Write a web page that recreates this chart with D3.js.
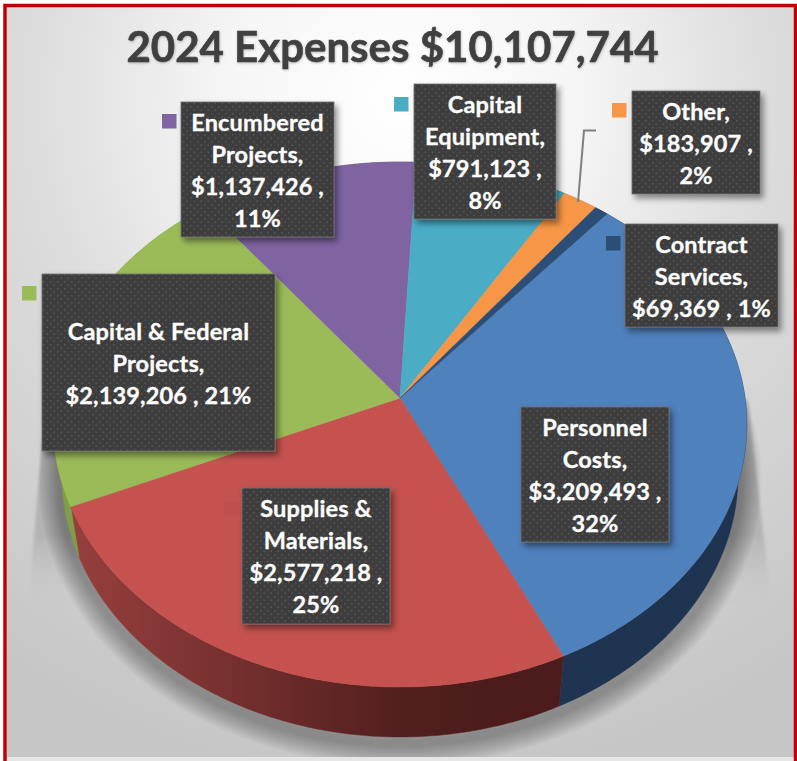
<!DOCTYPE html>
<html>
  <head>
    <title>2024 Expenses</title>
    <style type="text/css">
      html, body { margin: 0; padding: 0; background: #fff; }
      svg { display: block; }
      text { font-family: Lato, "Open Sans", sans-serif; font-weight: 700; }
    </style>
  </head>
  <body>
    <svg id="chart" width="797" height="761"></svg>

    <script src="https://cdn.jsdelivr.net/npm/d3@7/dist/d3.min.js"></script>
    <script type="text/javascript">

    // data, clockwise from the first slice
    var titleText = '2024 Expenses $10,107,744';
    var categories = ['Personnel Costs', 'Supplies & Materials', 'Capital & Federal Projects',
                      'Encumbered Projects', 'Capital Equipment', 'Other', 'Contract Services'];
    var values = [3209493, 2577218, 2139206, 1137426, 791123, 183907, 69369];
    var percents = ['32%', '25%', '21%', '11%', '8%', '2%', '1%'];
    var nameLines = [['Personnel', 'Costs,'], ['Supplies &', 'Materials,'], ['Capital & Federal', 'Projects,'],
                     ['Encumbered', 'Projects,'], ['Capital', 'Equipment,'], ['Other,'], ['Contract', 'Services,']];
    var colors = ['#4f81bd', '#c5524f', '#9bbb59', '#8064a2', '#4bacc6', '#f79646', '#2c4d75'];
    var sideColors = ['#1e3450', 'url(#redSide)', '#7f9e47', '#5c4876', '#2f7c90', '#b56a2c', '#1e3450'];

    // label boxes: x0, y0, x1, y1, key x, key y, percent on the same line
    var boxes = [
      [521, 407, 669, 542, 503, 420, false],
      [242, 488, 390, 624, 224, 501, false],
      [42, 274, 275, 451, 22, 286, true],
      [181, 102, 334, 237, 162, 114, false],
      [414, 84, 556, 219, 394, 97, false],
      [632, 91, 760, 194, 612, 103, false],
      [625, 224, 778, 327, 606, 236, true]
    ];

    var cx = 400, cy = 398,      // where the slices meet
        persp = 0.101,           // back of the pie is drawn smaller than the front
        scaleX = 345, scaleY = 259.8,
        depth = 50, lowerScale = 0.975;

    function project(a, lower) {
      var u = Math.sin(a), v = Math.cos(a), w = 1 + persp * v;
      var x = scaleX * u / w, y = -scaleY * v / w;
      return lower ? [cx + x * lowerScale, cy + y + depth] : [cx + x, cy + y];
    }

    function arcPoints(a0, a1, lower) {
      var n = Math.ceil(Math.abs(a1 - a0) / 0.01);
      return d3.range(n + 1).map(function(i) { return project(a0 + (a1 - a0) * i / n, lower); });
    }

    var line = d3.line();

    var svg = d3.select('#chart');
    var defs = svg.append('defs');

    var bg = defs.append('radialGradient').attr('id', 'bg')
      .attr('gradientUnits', 'userSpaceOnUse')
      .attr('cx', 400).attr('cy', 100).attr('r', 680);
    bg.append('stop').attr('offset', 0).attr('stop-color', '#ffffff');
    bg.append('stop').attr('offset', 0.25).attr('stop-color', '#f6f6f6');
    bg.append('stop').attr('offset', 0.55).attr('stop-color', '#dcdcdc');
    bg.append('stop').attr('offset', 1).attr('stop-color', '#c6c6c6');

    var red = defs.append('linearGradient').attr('id', 'redSide')
      .attr('gradientUnits', 'userSpaceOnUse')
      .attr('x1', 75).attr('x2', 500).attr('y1', 0).attr('y2', 0);
    red.append('stop').attr('offset', 0).attr('stop-color', '#963f3d');
    red.append('stop').attr('offset', 0.8).attr('stop-color', '#4f1e1d');
    red.append('stop').attr('offset', 1).attr('stop-color', '#4c1c1c');

    var fade = defs.append('linearGradient').attr('id', 'fade')
      .attr('gradientUnits', 'userSpaceOnUse')
      .attr('x1', 0).attr('x2', 0).attr('y1', 420).attr('y2', 610);
    fade.append('stop').attr('offset', 0).attr('stop-color', '#aeaeae');
    fade.append('stop').attr('offset', 0.6).attr('stop-color', '#b4b4b4');
    fade.append('stop').attr('offset', 1).attr('stop-color', '#c8c8c8').attr('stop-opacity', 0);

    defs.append('filter').attr('id', 'blurSmall')
      .append('feGaussianBlur').attr('stdDeviation', 1.5);

    var boxShadow = defs.append('filter').attr('id', 'boxShadow')
      .attr('x', '-10%').attr('y', '-10%').attr('width', '125%').attr('height', '125%');
    boxShadow.append('feDropShadow').attr('dx', 3).attr('dy', 4).attr('stdDeviation', 3)
      .attr('flood-color', '#000').attr('flood-opacity', 0.45);

    var titleShadow = defs.append('filter').attr('id', 'titleShadow');
    titleShadow.append('feDropShadow').attr('dx', 0.5).attr('dy', 1).attr('stdDeviation', 1)
      .attr('flood-color', '#000').attr('flood-opacity', 0.25);

    var dots = defs.append('pattern').attr('id', 'dots')
      .attr('patternUnits', 'userSpaceOnUse').attr('width', 7).attr('height', 7);
    dots.append('rect').attr('width', 7).attr('height', 7).attr('fill', '#3e3e3e');
    dots.append('rect').attr('x', 1).attr('y', 1).attr('width', 1.5).attr('height', 1.5).attr('fill', '#565656');
    dots.append('rect').attr('x', 4.5).attr('y', 4.5).attr('width', 1.5).attr('height', 1.5).attr('fill', '#565656');

    // frame and background
    svg.append('rect').attr('width', 797).attr('height', 761).attr('fill', '#fff');
    svg.append('rect').attr('x', 7).attr('y', 7).attr('width', 787).attr('height', 750).attr('fill', 'url(#bg)');

    // shadow under the pie, built from stacked soft strokes
    var full = arcPoints(0, 2 * Math.PI, true);
    svg.append('path')
      .attr('d', 'M42,440L28,610H772L748,400Z')
      .attr('fill', 'url(#fade)').attr('filter', 'url(#blurSmall)');
    svg.append('g').selectAll('path')
      .data(d3.range(14))
      .enter().append('path')
        .attr('d', line(full) + 'Z')
        .attr('transform', 'translate(0,6)')
        .attr('fill', 'none')
        .attr('stroke', '#000')
        .attr('stroke-opacity', 0.024)
        .attr('stroke-width', function(i) { return 8 + i * 3; });

    svg.append('rect').attr('x', 7).attr('y', 757).attr('width', 787).attr('height', 4).attr('fill', '#e6e6e6');
    svg.append('path')
      .attr('d', 'M5,761V5.5H795.5V761')
      .attr('fill', 'none').attr('stroke', '#c00000').attr('stroke-width', 3.5);

    var pie = d3.pie().sort(null)
      .startAngle(40.2 * Math.PI / 180)
      .endAngle((40.2 + 360) * Math.PI / 180);
    var slices = pie(values);

    // side walls
    svg.append('g').selectAll('path')
      .data(slices)
      .enter().append('path')
        .attr('d', function(d) {
          var top = arcPoints(d.startAngle, d.endAngle, false);
          var bottom = arcPoints(d.endAngle, d.startAngle, true);
          return line(top.concat(bottom)) + 'Z';
        })
        .attr('fill', function(d, i) { return sideColors[i]; })
        .attr('stroke', function(d, i) { return sideColors[i]; })
        .attr('stroke-width', 0.5);

    // top surface
    svg.append('g').selectAll('path')
      .data(slices)
      .enter().append('path')
        .attr('d', function(d) {
          return line([[cx, cy]].concat(arcPoints(d.startAngle, d.endAngle, false))) + 'Z';
        })
        .attr('fill', function(d, i) { return colors[i]; })
        .attr('stroke', function(d, i) { return colors[i]; })
        .attr('stroke-width', 0.5);

    // leader line for Other
    svg.append('path')
      .attr('d', 'M578,202L584,130.5H596')
      .attr('fill', 'none').attr('stroke', '#7f7f7f').attr('stroke-width', 2);

    // legend keys
    svg.append('g').selectAll('rect')
      .data(boxes)
      .enter().append('rect')
        .attr('x', function(b) { return b[4]; })
        .attr('y', function(b) { return b[5]; })
        .attr('width', 14.5)
        .attr('height', 14.5)
        .attr('fill', function(b, i) { return i === 1 ? '#c04e4c' : colors[i]; });

    // data labels
    var fmt = d3.format('$,');
    function labelLines(i) {
      var v = fmt(values[i]) + ' ,';
      return boxes[i][6] ? nameLines[i].concat([v + ' ' + percents[i]])
                         : nameLines[i].concat([v, percents[i]]);
    }

    var labels = svg.append('g').selectAll('g')
      .data(categories)
      .enter().append('g').attr('class', 'label');

    labels.append('rect')
      .attr('x', function(d, i) { return boxes[i][0]; })
      .attr('y', function(d, i) { return boxes[i][1]; })
      .attr('width', function(d, i) { return boxes[i][2] - boxes[i][0]; })
      .attr('height', function(d, i) { return boxes[i][3] - boxes[i][1]; })
      .attr('fill', 'url(#dots)')
      .attr('stroke', '#6e6e6e').attr('stroke-width', 0.8)
      .attr('filter', 'url(#boxShadow)');

    labels.each(function(d, i) {
      var b = boxes[i], ls = labelLines(i), mid = (b[1] + b[3]) / 2;
      d3.select(this).selectAll('text')
        .data(ls)
        .enter().append('text')
          .attr('x', (b[0] + b[2]) / 2)
          .attr('y', function(t, j) { return mid + (j - (ls.length - 1) / 2) * 32 + 9; })
          .attr('text-anchor', 'middle')
          .attr('font-size', 23.5)
          .attr('letter-spacing', 0.15)
          .attr('fill', '#fff')
          .attr('stroke', '#fff').attr('stroke-width', 0.3)
          .text(function(t) { return t; });
    });

    svg.append('text')
      .attr('x', 392.5)
      .attr('y', 62)
      .attr('text-anchor', 'middle')
      .attr('font-size', 42)
      .attr('fill', '#404040')
      .attr('stroke', '#404040').attr('stroke-width', 0.6)
      .attr('filter', 'url(#titleShadow)')
      .text(titleText);

    </script>
  </body>
</html>
